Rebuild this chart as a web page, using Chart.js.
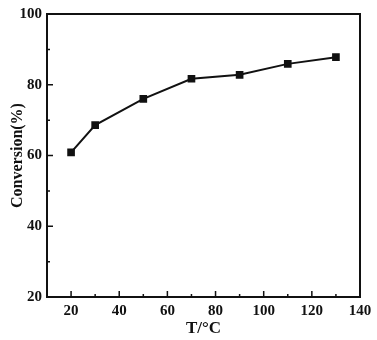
<!DOCTYPE html>
<html>
<head>
<meta charset="utf-8">
<script src="https://cdn.jsdelivr.net/npm/chart.js@4.4.1/dist/chart.umd.min.js"></script>
<style>
html, body { margin: 0; padding: 0; background: #fff; }
</style>
</head>
<body>
<canvas id="myChart" width="377" height="340"></canvas>
<script>
// data
const temps = [20, 30, 50, 70, 90, 110, 130]
const conversion = [60.9, 68.6, 76.0, 81.7, 82.8, 85.9, 87.8]
const xTicks = [20, 40, 60, 80, 100, 120, 140]
const yTicks = [20, 40, 60, 80, 100]

const serif = "'Liberation Serif', 'Times New Roman', serif"

// frame box + inward tick marks (major every 20, minor every 10)
const frameTicks = {
    id: 'frameTicks',
    afterDatasetsDraw(chart) {
        const ctx = chart.ctx
        const a = chart.chartArea
        const xs = chart.scales.x
        const ys = chart.scales.y
        ctx.save()
        ctx.strokeStyle = '#111'
        ctx.lineWidth = 2
        ctx.strokeRect(a.left, a.top, a.right - a.left, a.bottom - a.top)
        ctx.lineWidth = 1.5
        ctx.beginPath()
        for (let v = xs.min + 10; v < xs.max; v += 10) {
            const px = xs.getPixelForValue(v)
            const len = v % 20 === 0 ? 6 : 3
            ctx.moveTo(px, a.bottom)
            ctx.lineTo(px, a.bottom - len)
        }
        for (let v = ys.min + 10; v < ys.max; v += 10) {
            const py = ys.getPixelForValue(v)
            const len = v % 20 === 0 ? 6 : 3
            ctx.moveTo(a.left, py)
            ctx.lineTo(a.left + len, py)
        }
        ctx.stroke()
        ctx.restore()
    }
}

const myChart = new Chart(document.getElementById('myChart'), {
    type: 'line',
    data: {
        datasets: [{
            data: temps.map((t, i) => ({ x: t, y: conversion[i] })),
            borderColor: '#111',
            backgroundColor: '#111',
            borderWidth: 2,
            pointStyle: 'rect',
            pointRadius: 4,
            pointHoverRadius: 4,
            tension: 0
        }]
    },
    options: {
        responsive: false,
        animation: false,
        layout: { padding: { top: 10, right: 17, left: 0, bottom: 0 } },
        plugins: { legend: { display: false }, tooltip: { enabled: false } },
        scales: {
            x: {
                type: 'linear',
                min: 10,
                max: 140,
                afterBuildTicks: s => { s.ticks = xTicks.map(v => ({ value: v })) },
                afterFit: s => { s.height = 43 },
                grid: { display: false, drawTicks: false },
                border: { display: false },
                ticks: { color: '#111', padding: 5, maxRotation: 0, font: { family: serif, size: 15, weight: 'bold' } },
                title: { display: true, text: 'T/°C', color: '#111', padding: { top: 0, bottom: 1 }, font: { family: serif, size: 17, weight: 'bold' } }
            },
            y: {
                min: 20,
                max: 100,
                afterBuildTicks: s => { s.ticks = yTicks.map(v => ({ value: v })) },
                afterFit: s => { s.width = 47 },
                grid: { display: false, drawTicks: false },
                border: { display: false },
                ticks: { color: '#111', padding: 5, font: { family: serif, size: 15, weight: 'bold' } },
                title: { display: true, text: 'Conversion(%)', color: '#111', padding: { top: 8, bottom: 0 }, font: { family: serif, size: 16, weight: 'bold' } }
            }
        }
    },
    plugins: [frameTicks]
})
</script>
</body>
</html>
